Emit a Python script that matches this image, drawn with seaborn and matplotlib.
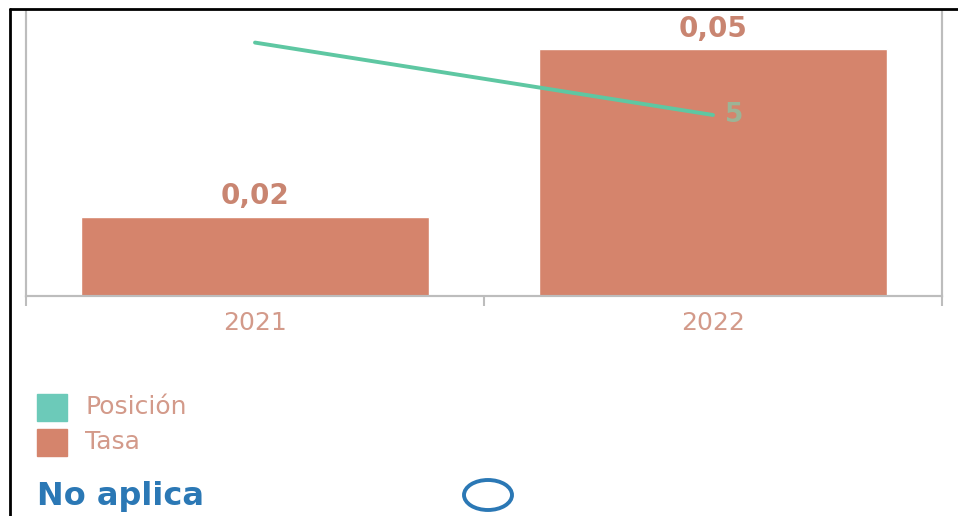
import numpy as np
import matplotlib
matplotlib.use("Agg")
import matplotlib.pyplot as plt
from matplotlib.patches import Rectangle, Ellipse
from matplotlib.lines import Line2D
import seaborn as sns

# Data
years = ["2021", "2022"]
tasa = [0.016, 0.05]
posicion = [7, 5]
legend_labels = ["Posición", "Tasa"]

bar_color = "#d5846c"
line_color = "#5ec7a2"
legend_teal = "#6ccab9"
text_salmon = "#d39a8a"
blue = "#2b78b5"

sns.set_style("white")
plt.rcParams['font.family'] = ['DejaVu Sans']

fig = plt.figure(figsize=(9.58, 5.16), dpi=100)
ax = fig.add_axes([26 / 958, 1 - 296 / 516, (942 - 26) / 958, (296 - 10) / 516])

# Bars for Tasa
sns.barplot(x=years, y=tasa, color=bar_color, width=0.76, saturation=1, ax=ax)
ax.set_ylim(0, 0.058)
ax.set_xlim(-0.5, 1.5)
labels = [f"{v:.2f}".replace(".", ",") for v in tasa]
ax.bar_label(ax.containers[0], labels=labels, padding=5, fontsize=20,
             fontweight="bold", color="#c98571")

# Line for Posición on a twin axis
ax2 = ax.twinx()
sns.lineplot(x=np.arange(len(years)), y=posicion, color=line_color, linewidth=2.8, ax=ax2)
ax2.set_ylim(0, 7.9)
ax2.set_yticks([])
ax2.set_ylabel("")
ax2.annotate(str(posicion[-1]), (1, posicion[-1]), xytext=(9, 0), textcoords="offset points",
             ha="left", va="center", fontsize=19, fontweight="bold", color="#9cb496")

# Axis styling
for a in (ax, ax2):
    a.spines["top"].set_visible(False)
    for side in ("left", "right", "bottom"):
        a.spines[side].set_color("#bdbdbd")
        a.spines[side].set_linewidth(1.5)
ax.set_yticks([])
ax.set_xticks([0, 1])
ax.set_xticklabels(years, fontsize=18, color=text_salmon)
ax.tick_params(axis="x", which="major", length=0, pad=11)
ax.set_xticks([-0.5, 0.5, 1.5], minor=True)
ax.tick_params(axis="x", which="minor", bottom=True, length=7, width=1.5,
               color="#bdbdbd", direction="out")

# Legend drawn beneath the chart
W, H = 958, 516
for i, (lab, col) in enumerate(zip(legend_labels, [legend_teal, bar_color])):
    yc = 407 + i * 35
    fig.patches.append(Rectangle((37 / W, 1 - (yc + 14) / H), 30 / W, 27 / H,
                                 transform=fig.transFigure, color=col))
    fig.text(85 / W, 1 - yc / H, lab, fontsize=18, color=text_salmon, va="center", ha="left")

fig.text(37 / W, 1 - 496 / H, "No aplica", fontsize=23, fontweight="bold", color=blue,
         va="center", ha="left")
fig.patches.append(Ellipse((488 / W, 1 - 495 / H), 48 / W, 30 / H, transform=fig.transFigure,
                           fill=False, edgecolor=blue, linewidth=2.8))

# Black frame at top and left edge
fig.lines.append(Line2D([10 / W, 1], [1 - 9 / H, 1 - 9 / H], transform=fig.transFigure,
                        color="black", linewidth=2))
fig.lines.append(Line2D([10 / W, 10 / W], [0, 1 - 9 / H], transform=fig.transFigure,
                        color="black", linewidth=2))

fig.savefig("out.png", dpi=100)
